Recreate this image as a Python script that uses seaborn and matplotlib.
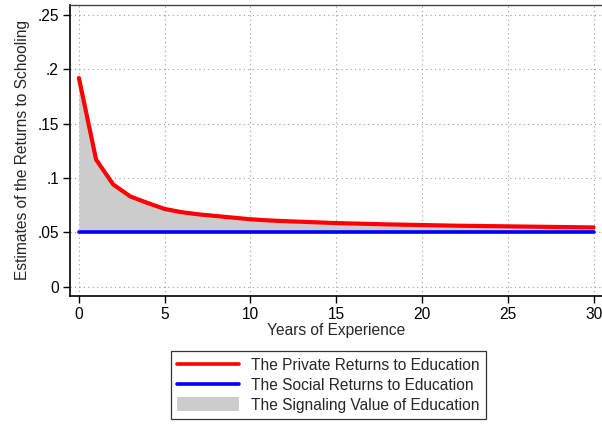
import matplotlib
matplotlib.use("Agg")
import matplotlib.pyplot as plt
import seaborn as sns
import pandas as pd
import numpy as np

years = list(range(0, 31))
private_returns = [0.192, 0.117, 0.094, 0.083, 0.077, 0.0715, 0.0685, 0.0665, 0.065, 0.0635,
                   0.062, 0.061, 0.0603, 0.0597, 0.0591, 0.0585, 0.0581, 0.0577, 0.0573, 0.057,
                   0.0567, 0.0564, 0.0561, 0.0559, 0.0557, 0.0555, 0.0553, 0.0551, 0.0549, 0.0547, 0.0545]
social_returns = [0.05] * 31
x_ticks = [0, 5, 10, 15, 20, 25, 30]
y_ticks = [0, 0.05, 0.1, 0.15, 0.2, 0.25]
y_tick_labels = ["0", ".05", ".1", ".15", ".2", ".25"]

sns.set_style("white")
plt.rcParams['font.family'] = ['Liberation Sans', 'DejaVu Sans']

df = pd.DataFrame({"Years": years, "Private": private_returns, "Social": social_returns})

fig = plt.figure(figsize=(6.02, 4.28), dpi=100)
ax = fig.add_axes([70/602, 1 - 296/428, (603 - 70)/602, (296 - 5)/428])

ax.fill_between(df["Years"], df["Social"], df["Private"], color="#cccccc", linewidth=0,
                label="The Signaling Value of Education", zorder=1)
sns.lineplot(data=df, x="Years", y="Private", ax=ax, color="#ff0000", linewidth=3.0,
             label="The Private Returns to Education", zorder=3)
sns.lineplot(data=df, x="Years", y="Social", ax=ax, color="#0000ff", linewidth=2.6,
             label="The Social Returns to Education", zorder=3)

fs = 11.2
ax.set_xlim(-0.52, 30.55)
ax.set_ylim(-0.0086, 0.2592)
ax.set_xticks(x_ticks)
ax.set_yticks(y_ticks)
ax.set_yticklabels(y_tick_labels)
ax.tick_params(axis="both", direction="out", length=5, width=1, colors="black",
               labelsize=fs, left=True, bottom=True, pad=3)
ax.grid(True, linestyle=(0, (1, 3)), color="#999999", linewidth=0.8)
ax.set_axisbelow(True)
for s in ["left", "bottom"]:
    ax.spines[s].set_color("black")
    ax.spines[s].set_linewidth(1.2)
for s in ["top", "right"]:
    ax.spines[s].set_color("#444444")
    ax.spines[s].set_linewidth(1.0)

ax.set_xlabel("Years of Experience", fontsize=fs, labelpad=1)
ax.set_ylabel("Estimates of the Returns to Schooling", fontsize=fs, labelpad=5)

handles, labels = ax.get_legend_handles_labels()
order = ["The Private Returns to Education", "The Social Returns to Education",
         "The Signaling Value of Education"]
hmap = dict(zip(labels, handles))
leg = fig.legend([hmap[k] for k in order], order, loc="center",
                 bbox_to_anchor=(328.5/602, 1 - 385/428), frameon=True, fancybox=False,
                 fontsize=fs, handlelength=4.0, handleheight=1.0, labelspacing=0.3,
                 borderpad=0.4, handletextpad=0.75, borderaxespad=0)
leg.get_frame().set_edgecolor("black")
leg.get_frame().set_linewidth(0.9)
for line in leg.get_lines():
    line.set_linewidth(2.6)
if ax.get_legend():
    ax.get_legend().remove()

fig.savefig("out.png", dpi=100)
